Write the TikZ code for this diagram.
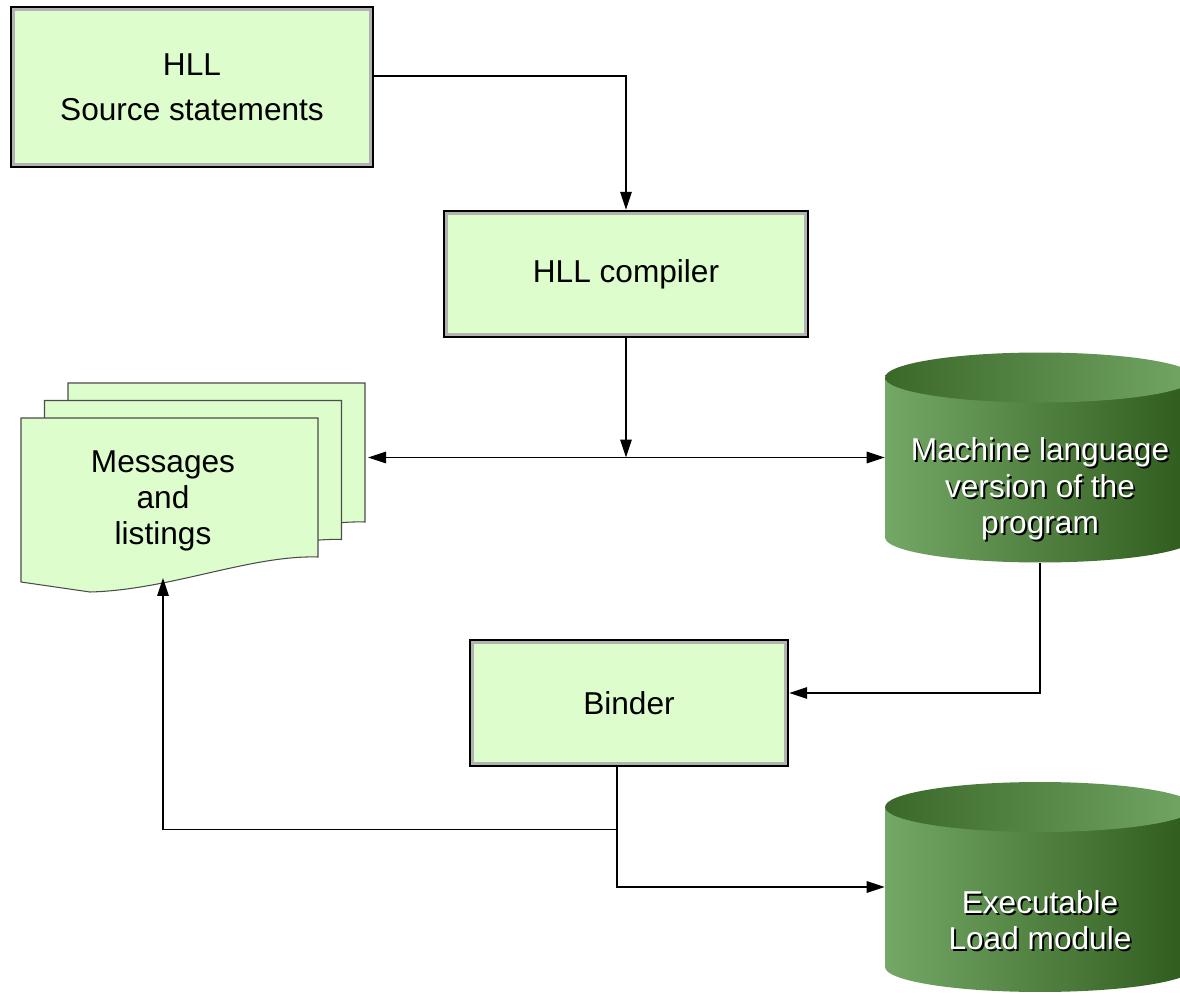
\documentclass[tikz,border=0pt]{standalone}
\usepackage{fontspec}
\setmainfont{Liberation Sans}
\usetikzlibrary{arrows.meta, positioning, calc}

\definecolor{boxgreen}{HTML}{DDFDCC}
\definecolor{sheetgreen}{HTML}{DDFDCC}
\definecolor{cylL}{HTML}{74A866}
\definecolor{cylR}{HTML}{2E5A1C}
\definecolor{topL}{HTML}{3A6829}
\definecolor{topR}{HTML}{73A665}

\newcommand{\shadowed}[1]{\rlap{\kern1.1pt\raisebox{-1.1pt}{\color{black}#1}}#1}
\newcommand{\lowtext}[2][-0.8cm]{\raisebox{#1}[0pt][0pt]{\begin{tabular}{@{}c@{}}#2\end{tabular}}}

\begin{document}
\begin{tikzpicture}[
    x=0.02cm, y=0.02cm,
    font=\fontsize{18}{20.6}\selectfont,
    box/.style={draw, line width=1.4pt, fill=boxgreen, align=center, minimum height=2.52cm,
        path picture={\draw[black!30, line width=5pt] (path picture bounding box.south west) rectangle (path picture bounding box.north east);}},
    sheet/.style={draw=black!70, line width=0.6pt, fill=sheetgreen},
    store/.style={fill=white, text=white, minimum width=6.2cm, minimum height=4.2cm, inner sep=0pt,
        path picture={
            \shade[left color=cylL, right color=cylR]
                ([yshift=-0.5cm]path picture bounding box.north west) -- ([yshift=0.5cm]path picture bounding box.south west)
                arc[start angle=180, end angle=360, x radius=3.1cm, y radius=0.5cm]
                -- ([yshift=-0.5cm]path picture bounding box.north east) -- cycle;
            \shade[left color=topL, right color=topR]
                ([yshift=-0.5cm]path picture bounding box.north) ellipse [x radius=3.1cm, y radius=0.5cm];
        }},
    arrow/.style={-{Triangle[length=0.36cm, width=0.23cm]}, line width=0.8pt},
    dblarrow/.style={{Triangle[length=0.36cm, width=0.23cm]}-{Triangle[length=0.36cm, width=0.23cm]}, line width=0.8pt}
]
\useasboundingbox (0,0) rectangle (1180,995);

% listing stack, back sheet first
\foreach \k in {2,1,0}
    \draw[sheet, shift={(23.5*\k,17.5*\k)}] (21,577) -- (318,577) -- (318,438)
        .. controls (250,440) and (170,405) .. (90,403) -- (21,413) -- cycle;
\node[align=center] (msg) at (163,494) {Messages\\and\\listings};
\coordinate (wave) at (163,417);
\coordinate (backedge) at (368,543);

% boxes
\node[box, minimum width=7.24cm, minimum height=3.2cm] (src) at (192,908) {HLL\\[0.18cm]Source statements};
\node[box, minimum width=7.28cm] (comp) at (626,721) {HLL compiler};
\node[box, minimum width=6.36cm] (bind) at (629,292) {Binder};

% data stores
\node[store] (mlv) at (1040,537.5) {\lowtext{\shadowed{Machine language}\\\shadowed{version of the}\\\shadowed{program}}};
\node[store] (exe) at (1040,108) {\lowtext[-0.9cm]{\shadowed{Executable}\\\shadowed{Load module}}};

\coordinate (hub) at (comp.south |- mlv.west);
\coordinate (bindout) at ($(bind.south)+(-12,0)$);
\coordinate (tee) at ($(bindout)+(0,-62)$);

% connectors
\draw[arrow] ([yshift=0.22cm]src.east) -| (comp.north);
\draw[arrow] (comp.south) -- (hub);
\draw[dblarrow] (backedge |- hub) -- (mlv.west);
\draw[arrow] (mlv.south) |- ([yshift=0.2cm]bind.east);
\draw[arrow] (bindout) |- (exe.west);
\draw[arrow] (tee) -| (wave);

\end{tikzpicture}
\end{document}
